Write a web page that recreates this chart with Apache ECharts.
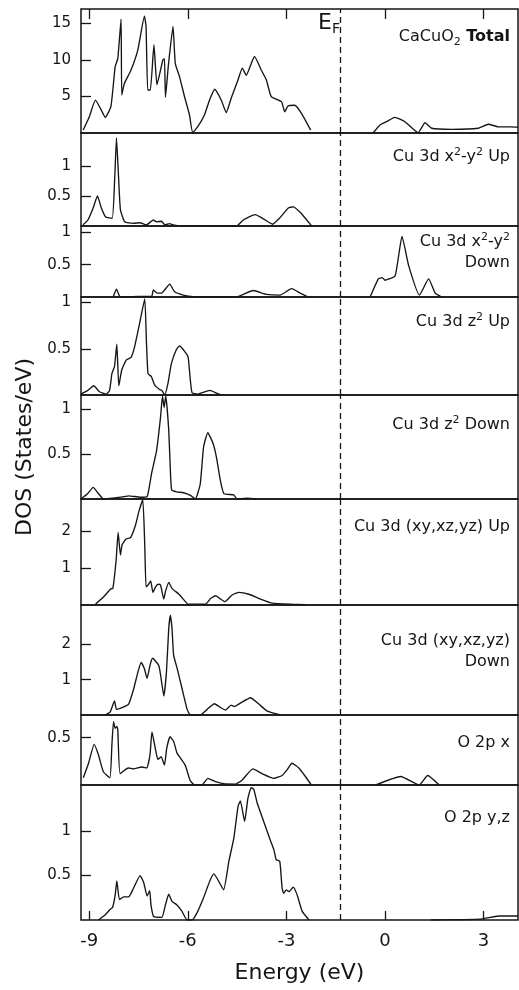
<!DOCTYPE html>
<html><head><meta charset="utf-8">
<script src="https://cdn.jsdelivr.net/npm/echarts@6/dist/echarts.min.js"></script>
<style>html,body{margin:0;padding:0;background:#fff}#c{width:519px;height:990px}</style>
</head><body><div id="c"></div>
<script>
// ---------- data (energy in eV, DOS in states/eV) ----------
const energyTicks = [-9, -6, -3, 0, 3];
const fermiEnergy = -1.35;

const totalVB = [[-9.18,0.4],[-9.15,0.73],[-9.0,2.2],[-8.81,4.5],[-8.64,3.2],[-8.51,2.15],[-8.34,3.6],[-8.21,9.1],[-8.13,10.2],[-8.03,15.6],[-8.01,5.2],[-7.93,6.8],[-7.73,8.6],[-7.52,11.4],[-7.32,16.0],[-7.27,14.6],[-7.22,5.9],[-7.14,5.9],[-7.03,12.1],[-6.94,6.6],[-6.86,8.0],[-6.76,10.0],[-6.71,10.2],[-6.68,4.9],[-6.59,9.3],[-6.45,14.6],[-6.38,9.5],[-6.25,7.7],[-6.10,5.0],[-5.95,2.5],[-5.85,0.05],[-5.69,0.9],[-5.49,2.5],[-5.34,4.5],[-5.18,6.0],[-4.98,4.5],[-4.83,2.8],[-4.68,4.75],[-4.47,7.3],[-4.34,8.9],[-4.22,7.9],[-4.07,9.5],[-3.97,10.5],[-3.76,8.6],[-3.61,7.3],[-3.46,5.0],[-3.15,4.3],[-3.05,2.9],[-2.95,3.7],[-2.75,3.8],[-2.54,2.7],[-2.26,0.4]];
const totalCB = [[-0.36,0],[-0.15,1.1],[0.05,1.55],[0.30,2.15],[0.61,1.55],[1.01,0.05],[1.22,1.4],[1.42,0.65],[2.03,0.5],[2.84,0.65],[3.15,1.2],[3.45,0.85],[3.83,0.85],[4.05,0.8]];

const x2y2Up = [[-9.19,0.02],[-9.04,0.1],[-8.88,0.3],[-8.75,0.5],[-8.63,0.3],[-8.50,0.15],[-8.30,0.13],[-8.22,0.85],[-8.17,1.47],[-8.11,0.85],[-8.05,0.27],[-7.92,0.07],[-7.66,0.045],[-7.46,0.055],[-7.26,0.02],[-7.05,0.1],[-6.95,0.07],[-6.80,0.08],[-6.70,0.02],[-6.55,0.04],[-6.45,0.02],[-6.19,0.005],[-4.52,0],[-4.31,0.1],[-3.95,0.19],[-3.70,0.12],[-3.42,0.03],[-3.19,0.14],[-2.94,0.3],[-2.79,0.32],[-2.58,0.23],[-2.38,0.1],[-2.23,0]];

const x2y2DownVB = [[-8.27,0],[-8.17,0.12],[-8.05,0],[-7.5,0.01],[-7.1,0.01],[-7.05,0.11],[-6.93,0.06],[-6.80,0.06],[-6.55,0.2],[-6.40,0.08],[-6.14,0.03],[-5.84,0.005],[-4.52,0],[-4.01,0.1],[-3.60,0.04],[-3.19,0.03],[-2.84,0.13],[-2.58,0.06],[-2.33,0]];
const x2y2DownCB = [[-0.45,0],[-0.2,0.28],[-0.08,0.3],[0.0,0.26],[0.31,0.33],[0.52,0.94],[0.72,0.49],[1.05,0.03],[1.33,0.28],[1.53,0.06],[1.73,0]];

const z2Up = [[-9.25,0.01],[-9.04,0.05],[-8.86,0.1],[-8.69,0.035],[-8.48,0.01],[-8.38,0.05],[-8.31,0.23],[-8.23,0.31],[-8.16,0.55],[-8.10,0.1],[-8.01,0.27],[-7.87,0.38],[-7.72,0.41],[-7.62,0.52],[-7.47,0.77],[-7.31,1.04],[-7.26,0.59],[-7.21,0.23],[-7.11,0.2],[-7.01,0.11],[-6.86,0.06],[-6.79,0.05],[-6.70,0],[-6.6,0.13],[-6.5,0.34],[-6.35,0.49],[-6.25,0.53],[-6.09,0.47],[-5.99,0.41],[-5.94,0.23],[-5.87,0.025],[-5.69,0.01],[-5.33,0.05],[-5.13,0.02],[-4.98,0]];

const z2Down = [[-9.25,0],[-9.06,0.055],[-8.88,0.13],[-8.71,0.055],[-8.56,0],[-7.95,0.025],[-7.80,0.035],[-7.44,0.02],[-7.24,0.025],[-7.10,0.29],[-6.95,0.54],[-6.83,0.91],[-6.77,1.15],[-6.72,1.02],[-6.67,1.15],[-6.58,0.77],[-6.53,0.32],[-6.49,0.1],[-6.34,0.08],[-6.13,0.07],[-5.92,0.04],[-5.77,0],[-5.62,0.17],[-5.52,0.58],[-5.39,0.74],[-5.23,0.62],[-5.13,0.47],[-5.01,0.21],[-4.9,0.06],[-4.6,0.045],[-4.5,0],[-4.2,0.01],[-3.9,0]];

const xyUp = [[-8.81,0.02],[-8.56,0.22],[-8.35,0.43],[-8.28,0.45],[-8.18,1.22],[-8.12,1.96],[-8.05,1.35],[-8.0,1.62],[-7.88,1.78],[-7.74,1.82],[-7.59,2.16],[-7.49,2.52],[-7.37,2.84],[-7.31,1.62],[-7.27,0.49],[-7.21,0.54],[-7.13,0.65],[-7.06,0.34],[-6.98,0.49],[-6.9,0.56],[-6.83,0.54],[-6.73,0.16],[-6.68,0.36],[-6.58,0.61],[-6.48,0.45],[-6.27,0.29],[-6.07,0.09],[-5.99,0.02],[-5.46,0.02],[-5.30,0.18],[-5.15,0.25],[-5.0,0.16],[-4.87,0.09],[-4.65,0.27],[-4.44,0.34],[-4.14,0.29],[-3.84,0.18],[-3.43,0.05],[-2.82,0.02],[-2.41,0.01]];

const xyDown = [[-8.51,0],[-8.36,0.09],[-8.23,0.4],[-8.17,0.16],[-8.0,0.21],[-7.80,0.31],[-7.65,0.73],[-7.52,1.21],[-7.42,1.49],[-7.32,1.31],[-7.24,1.04],[-7.14,1.45],[-7.07,1.61],[-6.88,1.4],[-6.81,1.02],[-6.73,0.54],[-6.65,1.21],[-6.58,2.45],[-6.53,2.83],[-6.48,2.45],[-6.43,1.69],[-6.32,1.31],[-6.17,0.73],[-6.02,0.16],[-5.92,0],[-5.63,0],[-5.41,0.16],[-5.19,0.32],[-5.0,0.21],[-4.85,0.14],[-4.68,0.28],[-4.58,0.24],[-4.41,0.33],[-4.09,0.49],[-3.84,0.31],[-3.58,0.11],[-3.17,0]];

const o2pxVB = [[-9.18,0.077],[-9.02,0.23],[-8.85,0.43],[-8.72,0.32],[-8.57,0.14],[-8.37,0.077],[-8.31,0.42],[-8.26,0.67],[-8.21,0.6],[-8.16,0.62],[-8.13,0.58],[-8.06,0.12],[-7.81,0.18],[-7.65,0.17],[-7.4,0.19],[-7.25,0.18],[-7.15,0.32],[-7.09,0.56],[-6.99,0.39],[-6.91,0.27],[-6.81,0.3],[-6.71,0.21],[-6.64,0.39],[-6.54,0.51],[-6.43,0.46],[-6.33,0.34],[-6.08,0.21],[-5.93,0.05],[-5.82,0.007],[-5.57,0],[-5.39,0.07],[-5.16,0.035],[-4.91,0.014],[-4.55,0.01],[-4.35,0.05],[-4.02,0.17],[-3.74,0.12],[-3.38,0.07],[-3.13,0.1],[-2.98,0.16],[-2.83,0.23],[-2.62,0.18],[-2.42,0.09],[-2.24,0]];
const o2pxCB = [[-0.28,0],[0.48,0.09],[1.04,0],[1.3,0.1],[1.65,0]];

const o2pyzVB = [[-8.72,0],[-8.51,0.06],[-8.36,0.12],[-8.29,0.14],[-8.21,0.28],[-8.16,0.44],[-8.08,0.23],[-7.95,0.26],[-7.8,0.26],[-7.65,0.36],[-7.45,0.5],[-7.34,0.42],[-7.24,0.27],[-7.16,0.33],[-7.12,0.17],[-7.04,0.04],[-6.79,0.03],[-6.68,0.17],[-6.58,0.29],[-6.48,0.21],[-6.33,0.17],[-6.18,0.1],[-6.02,0],[-5.87,0],[-5.72,0.08],[-5.52,0.25],[-5.33,0.44],[-5.21,0.52],[-5.11,0.47],[-4.91,0.34],[-4.75,0.66],[-4.6,0.92],[-4.47,1.28],[-4.4,1.34],[-4.27,1.11],[-4.17,1.37],[-4.07,1.49],[-3.99,1.47],[-3.89,1.32],[-3.69,1.11],[-3.48,0.89],[-3.38,0.79],[-3.31,0.68],[-3.2,0.66],[-3.13,0.36],[-3.08,0.3],[-3.0,0.34],[-2.92,0.32],[-2.79,0.37],[-2.67,0.28],[-2.52,0.1],[-2.31,0]];
const o2pyzCB = [[1.4,0],[2.9,0.01],[3.2,0.03],[3.5,0.045],[4.05,0.045]];

const panelYTicks = [[5,10,15],[0.5,1],[0.5,1],[0.5,1],[0.5,1],[1,2],[1,2],[0.5],[0.5,1]];
const panelYMax = [17, 1.55, 1.10, 1.06, 1.16, 2.86, 3.12, 0.74, 1.52];
const panelCurves = [[totalVB,totalCB],[x2y2Up],[x2y2DownVB,x2y2DownCB],[z2Up],[z2Down],[xyUp],[xyDown],[o2pxVB,o2pxCB],[o2pyzVB,o2pyzCB]];
const panelLabels = [
  '{n|CaCuO}{sub|2}{b| Total}',
  '{n|Cu 3d x}{sup|2}{n|-y}{sup|2}{n| Up}',
  '{n|Cu 3d x}{sup|2}{n|-y}{sup|2}\n{n|Down}',
  '{n|Cu 3d z}{sup|2}{n| Up}',
  '{n|Cu 3d z}{sup|2}{n| Down}',
  '{n|Cu 3d (xy,xz,yz) Up}',
  '{n|Cu 3d (xy,xz,yz)}\n{n|Down}',
  '{n|O 2p x}',
  '{n|O 2p y,z}'
];

// ---------- layout ----------
const F = 'DejaVu Sans';
const INK = '#151515';
const frameLeft = 81, frameRightGap = 1;
const panelTop =    [9, 133, 226, 297, 395, 499, 605, 715, 785];
const panelBottom = [133, 226, 297, 395, 499, 605, 715, 785, 920];
const labelCenterY = [37, 157, 242, 322, 425, 527, 641, 743, 818];
const labelRightX = 510;

const grids = [], xAxes = [], yAxes = [], series = [];
for (let i = 0; i < 9; i++) {
  grids.push({left: frameLeft, right: frameRightGap, top: panelTop[i], height: panelBottom[i] - panelTop[i],
    show: true, borderColor: INK, borderWidth: 1.5, backgroundColor: 'transparent'});
  const last = i === 8;
  xAxes.push({type: 'value', gridIndex: i, min: -9.25, max: 4.05, position: 'bottom',
    axisLine: {show: false, onZero: false}, splitLine: {show: false},
    axisTick: {show: last, inside: true, length: 9, customValues: energyTicks, lineStyle: {color: INK, width: 1.3}},
    axisLabel: {show: last, customValues: energyTicks, fontSize: 18, fontFamily: F, color: INK, margin: 12},
    name: last ? 'Energy (eV)' : '', nameLocation: 'middle', nameGap: 42,
    nameTextStyle: {fontSize: 22, fontFamily: F, color: INK}});
  yAxes.push({type: 'value', gridIndex: i, min: 0, max: panelYMax[i], position: 'left',
    axisLine: {show: false, onZero: false}, splitLine: {show: false},
    axisTick: {show: true, inside: true, length: 10, customValues: panelYTicks[i], lineStyle: {color: INK, width: 1.3}},
    axisLabel: {customValues: panelYTicks[i], fontSize: 15, fontFamily: F, color: INK, margin: 10}});
  panelCurves[i].forEach((curve, k) => {
    const s = {type: 'line', xAxisIndex: i, yAxisIndex: i, data: curve, showSymbol: false, symbol: 'none',
      smooth: 0.15, silent: true, lineStyle: {color: INK, width: 1.35}};
    if (k === 0) {
      s.markLine = {silent: true, symbol: ['none', 'none'], label: {show: false},
        lineStyle: {color: INK, type: [6, 4], width: 1.3}, data: [{xAxis: fermiEnergy}]};
    }
    series.push(s);
  });
}
// top ticks of the first panel
xAxes.push({type: 'value', gridIndex: 0, position: 'top', min: -9.25, max: 4.05,
  axisLine: {show: false, onZero: false}, splitLine: {show: false}, axisLabel: {show: false},
  axisTick: {show: true, inside: true, length: 10, customValues: energyTicks, lineStyle: {color: INK, width: 1.3}}});

const rich = {
  n: {fontSize: 16, fontFamily: F, lineHeight: 21, color: INK},
  b: {fontSize: 16, fontFamily: F, fontWeight: 'bold', lineHeight: 21, color: INK},
  sup: {fontSize: 11, fontFamily: F, lineHeight: 8, verticalAlign: 'top', color: INK},
  sub: {fontSize: 11, fontFamily: F, lineHeight: 11, verticalAlign: 'bottom', color: INK}
};
const graphics = panelLabels.map((t, i) => ({
  type: 'text', x: labelRightX, y: labelCenterY[i] - 10.5, silent: true,
  style: {text: t, rich: rich, align: 'right', verticalAlign: 'top', fill: INK, font: '16px ' + F}
}));
graphics.push({type: 'text', x: 318, y: 10.5, silent: true,
  style: {text: '{e|E}{f|F}', verticalAlign: 'top', align: 'left', fill: INK,
    rich: {e: {fontSize: 22, fontFamily: F, lineHeight: 26, color: INK}, f: {fontSize: 14, fontFamily: F, lineHeight: 12, verticalAlign: 'bottom', color: INK}}}});
graphics.push({type: 'text', x: 25, y: 447, rotation: Math.PI / 2, silent: true,
  style: {text: 'DOS (States/eV)', fontSize: 22, fontFamily: F, fill: INK, align: 'center', verticalAlign: 'middle'}});

const chart = echarts.init(document.getElementById('c'), null, {renderer: 'canvas'});
chart.setOption({
  animation: false,
  backgroundColor: '#fff',
  textStyle: {fontFamily: F},
  grid: grids, xAxis: xAxes, yAxis: yAxes, series: series, graphic: graphics
});
</script></body></html>
